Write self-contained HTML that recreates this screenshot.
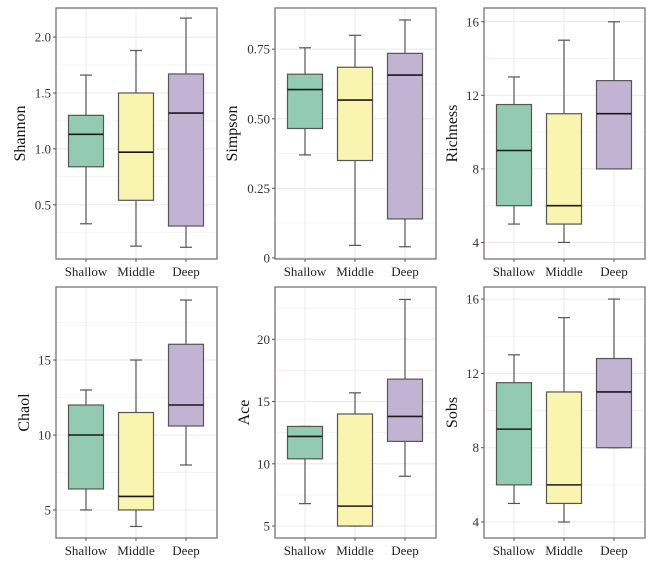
<!DOCTYPE html>
<html><head><meta charset="utf-8">
<style>
html,body{margin:0;padding:0;background:#fff;}
svg{display:block;font-family:"Liberation Serif",serif;}
</style></head>
<body>
<svg id="chart" width="668" height="564" viewBox="0 0 668 564" xmlns="http://www.w3.org/2000/svg"></svg>
<script>
const categories = ["Shallow","Middle","Deep"];
const panelTitles = ["Shannon","Simpson","Richness","Chaol","Ace","Sobs"];
// per panel: [min, q1, median, q3, max] for each category
const shannonStats = [[0.33,0.84,1.13,1.30,1.66],[0.13,0.54,0.97,1.50,1.88],[0.12,0.31,1.32,1.67,2.17]];
const simpsonStats = [[0.37,0.465,0.605,0.66,0.755],[0.045,0.35,0.567,0.685,0.80],[0.04,0.14,0.657,0.735,0.855]];
const richnessStats = [[5,6,9,11.5,13],[4,5,6,11,15],[8,8,11,12.8,16]];
const chaolStats = [[5,6.4,10,12,13],[3.9,5,5.9,11.5,15],[8,10.6,12,16.05,19]];
const aceStats = [[6.8,10.4,12.2,13,13],[5,5,6.6,14,15.7],[9,11.8,13.8,16.8,23.2]];
const sobsStats = [[5,6,9,11.5,13],[4,5,6,11,15],[8,8,11,12.8,16]];
const shannonTicks = [0.5,1.0,1.5,2.0];
const shannonTickLabels = ["0.5","1.0","1.5","2.0"];
const simpsonTicks = [0,0.25,0.5,0.75];
const simpsonTickLabels = ["0","0.25","0.50","0.75"];
const richnessTicks = [4,8,12,16];
const richnessTickLabels = ["4","8","12","16"];
const chaolTicks = [5,10,15];
const chaolTickLabels = ["5","10","15"];
const aceTicks = [5,10,15,20];
const aceTickLabels = ["5","10","15","20"];
const sobsTicks = [4,8,12,16];
const sobsTickLabels = ["4","8","12","16"];
const shannonDomain = [0.015,2.26];
const simpsonDomain = [-0.004,0.898];
const richnessDomain = [3.1,16.75];
const chaolDomain = [3.13,19.87];
const aceDomain = [4.04,24.2];
const sobsDomain = [3.14,16.65];

const fills = ["#93cab4","#f9f5b0","#c3b3d3"];
const NS = "http://www.w3.org/2000/svg";
const svg = document.getElementById("chart");
function mk(tag, attrs, parent){
  const e = document.createElementNS(NS, tag);
  for (const k in attrs) e.setAttribute(k, attrs[k]);
  (parent||svg).appendChild(e);
  return e;
}
const panels = [
  {x:56,y:8,stats:shannonStats,ticks:shannonTicks,labels:shannonTickLabels,dom:shannonDomain,tx:20},
  {x:275,y:8,stats:simpsonStats,ticks:simpsonTicks,labels:simpsonTickLabels,dom:simpsonDomain,tx:232},
  {x:484,y:8,stats:richnessStats,ticks:richnessTicks,labels:richnessTickLabels,dom:richnessDomain,tx:452},
  {x:56,y:287,stats:chaolStats,ticks:chaolTicks,labels:chaolTickLabels,dom:chaolDomain,tx:24},
  {x:275,y:287,stats:aceStats,ticks:aceTicks,labels:aceTickLabels,dom:aceDomain,tx:244},
  {x:484,y:287,stats:sobsStats,ticks:sobsTicks,labels:sobsTickLabels,dom:sobsDomain,tx:452}
];
const W = 161, H = 251;
panels.forEach((p, pi) => {
  const name = panelTitles[pi].toLowerCase();
  const g = mk("g", {});
  
  
  const yS = v => p.y + H - (v - p.dom[0]) / (p.dom[1] - p.dom[0]) * H;
  const xS = i => p.x + 30 + i * 50;
  // minor grid
  for (let i = 0; i < p.ticks.length - 1; i++) {
    const m = (p.ticks[i] + p.ticks[i+1]) / 2;
    mk("line", {x1:p.x, x2:p.x+W, y1:yS(m), y2:yS(m), stroke:"#f4f1f1", "stroke-width":0.8}, g);
  }
  const step = p.ticks[1]-p.ticks[0];
  [p.ticks[0]-step/2, p.ticks[p.ticks.length-1]+step/2].forEach(m=>{
    if (m>p.dom[0] && m<p.dom[1]) mk("line", {x1:p.x, x2:p.x+W, y1:yS(m), y2:yS(m), stroke:"#f4f1f1", "stroke-width":0.8}, g);
  });
  // major grid
  p.ticks.forEach(t => mk("line", {x1:p.x, x2:p.x+W, y1:yS(t), y2:yS(t), stroke:"#ece8e8", "stroke-width":1}, g));
  categories.forEach((c, i) => mk("line", {x1:xS(i), x2:xS(i), y1:p.y, y2:p.y+H, stroke:"#ece8e8", "stroke-width":1}, g));
  // boxes
  p.stats.forEach((s, i) => {
    const cx = xS(i);
    const bg = mk("g", {}, g);
    
    
    mk("line", {x1:cx, x2:cx, y1:yS(s[0]), y2:yS(s[4]), stroke:"#555", "stroke-width":1.2}, bg);
    mk("line", {x1:cx-6, x2:cx+6, y1:yS(s[0]), y2:yS(s[0]), stroke:"#555", "stroke-width":1.2}, bg);
    mk("line", {x1:cx-6, x2:cx+6, y1:yS(s[4]), y2:yS(s[4]), stroke:"#555", "stroke-width":1.2}, bg);
    mk("rect", {x:cx-17.5, y:yS(s[3]), width:35, height:Math.max(0.5, yS(s[1])-yS(s[3])), fill:fills[i], stroke:"#555", "stroke-width":1.2}, bg);
    mk("line", {x1:cx-17.5, x2:cx+17.5, y1:yS(s[2]), y2:yS(s[2]), stroke:"#1a1a1a", "stroke-width":1.6}, bg);
  });
  // border
  mk("rect", {x:p.x, y:p.y, width:W, height:H, fill:"none", stroke:"#7a7472", "stroke-width":1.3}, g);
  // y ticks
  p.ticks.forEach((t, i) => {
    mk("line", {x1:p.x-3, x2:p.x, y1:yS(t), y2:yS(t), stroke:"#555", "stroke-width":1}, g);
    const tl = mk("text", {x:p.x-5, y:yS(t)+4.5, "text-anchor":"end", "font-size":13, fill:"#333"}, g);
    tl.textContent = p.labels[i];
    
    
  });
  // x ticks
  categories.forEach((c, i) => {
    mk("line", {x1:xS(i), x2:xS(i), y1:p.y+H, y2:p.y+H+3, stroke:"#555", "stroke-width":1}, g);
    const xl = mk("text", {x:xS(i), y:p.y+H+17, "text-anchor":"middle", "font-size":13, fill:"#222"}, g);
    xl.textContent = c;
    
    
  });
  const cy = p.y + H/2;
  const tt = mk("text", {x:p.tx, y:cy, "text-anchor":"middle", "font-size":16, fill:"#111", transform:`rotate(-90 ${p.tx} ${cy})`, dy:"5"}, g);
  tt.textContent = panelTitles[pi];
  
  
});
</script>
</body></html>
